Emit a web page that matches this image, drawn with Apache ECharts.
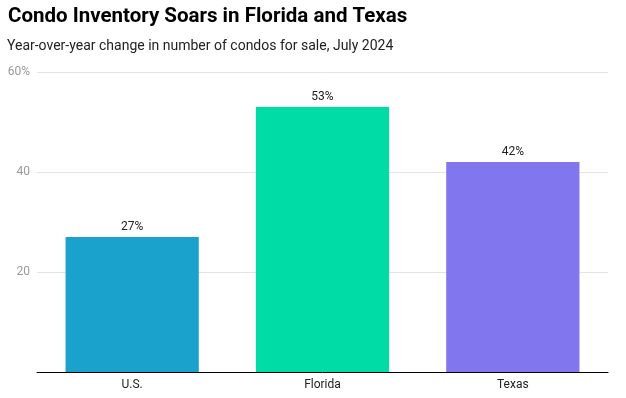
<!DOCTYPE html>
<html><head><meta charset="utf-8">
<script src="https://cdn.jsdelivr.net/npm/echarts@6/dist/echarts.min.js"></script>
<style>html,body{margin:0;padding:0;background:#fff}#c{width:626px;height:398px}</style>
</head><body><div id="c"></div>
<script>
const categories = ["U.S.", "Florida", "Texas"];
const values = [27, 53, 42];
const barColors = ["#1aa1cc", "#00dca6", "#8176ee"];
const yTicks = [0, 20, 40, 60];

const chart = echarts.init(document.getElementById('c'), null, {renderer: 'canvas'});
chart.setOption({
  animation: false,
  title: [
    {text: "Condo Inventory Soars in Florida and Texas", left: 3, top: 1, padding: [5,5,5,5],
     textStyle: {fontFamily: "Roboto", fontWeight: "bold", fontSize: 20.5, color: "#000"}},
    {text: "Year-over-year change in number of condos for sale, July 2024", left: 2, top: 34,
     textStyle: {fontFamily: "Roboto", fontWeight: "normal", fontSize: 14, color: "#222"}}
  ],
  grid: {left: 37, right: 18, top: 72, bottom: 26},
  xAxis: {
    type: 'category', data: categories,
    axisLine: {lineStyle: {color: "#000", width: 1}},
    axisTick: {show: false},
    axisLabel: {fontFamily: "Roboto", fontSize: 12, color: "#222", margin: 7}
  },
  yAxis: {
    type: 'value', min: 0, max: 60, interval: 20,
    axisLine: {show: false}, axisTick: {show: false},
    splitLine: {lineStyle: {color: "#e3e3e3"}},
    axisLabel: {fontFamily: "Roboto", fontSize: 12, color: "#999", margin: 7,
      formatter: v => v === 0 ? "" : (v === 60 ? v + "%" : String(v))}
  },
  series: [{
    type: 'bar', barWidth: '70%',
    data: values.map((v, i) => ({value: v, itemStyle: {color: barColors[i]}})),
    label: {show: true, position: 'top', distance: 4, formatter: p => p.value + "%",
      fontFamily: "Roboto", fontSize: 12, color: "#222"}
  }]
});
</script></body></html>
